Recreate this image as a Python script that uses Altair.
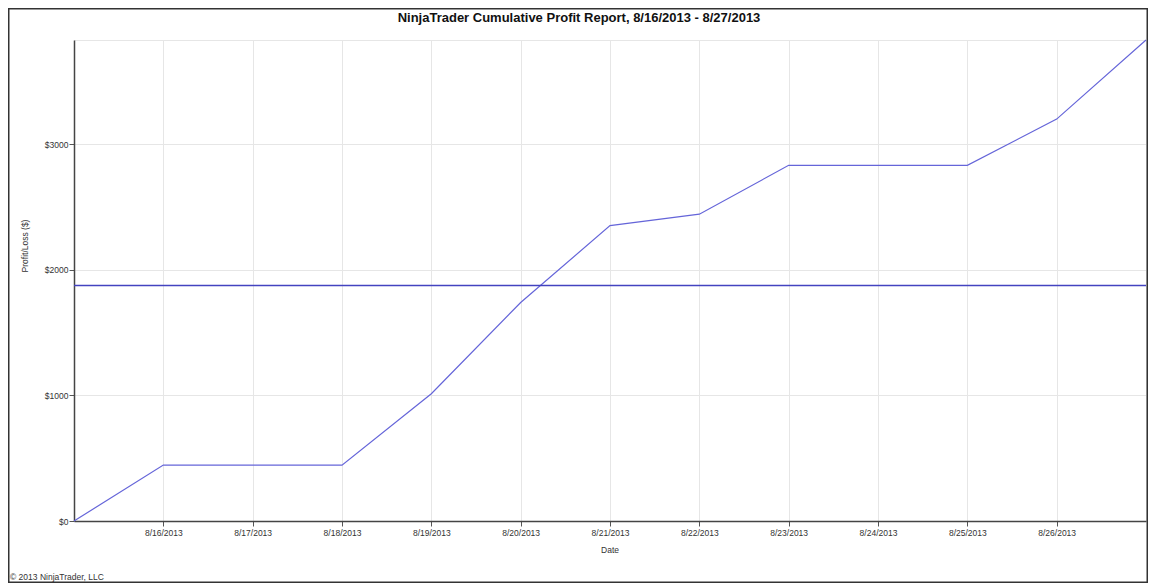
import altair as alt
import pandas as pd

# ---- data ----
dates = ["2013-08-15", "2013-08-16", "2013-08-17", "2013-08-18", "2013-08-19",
         "2013-08-20", "2013-08-21", "2013-08-22", "2013-08-23", "2013-08-24",
         "2013-08-25", "2013-08-26", "2013-08-27"]
profit = [0, 445, 445, 445, 1013, 1740, 2352, 2443, 2832, 2832, 2832, 3200, 3830]
tick_days = [16, 17, 18, 19, 20, 21, 22, 23, 24, 25, 26]
y_ticks = [0, 1000, 2000, 3000]
avg_value = [1875]
y_max = 3830

title_text = "NinjaTrader Cumulative Profit Report, 8/16/2013 - 8/27/2013"
x_title = "Date"
y_title = "Profit/Loss ($)"
copyright_text = "\u00a9 2013 NinjaTrader, LLC"

W, H = 1072, 481
FONT = "Liberation Sans"

df = pd.DataFrame({"date": dates, "profit": profit})
one = pd.DataFrame({"k": [0]})

x_enc = alt.X(
    "date:T",
    title=None,
    scale=alt.Scale(
        type="utc",
        domain=[alt.DateTime(year=2013, month=8, date=15, utc=True),
                alt.DateTime(year=2013, month=8, date=27, utc=True)],
    ),
    axis=alt.Axis(
        values=[alt.DateTime(year=2013, month=8, date=d, utc=True) for d in tick_days],
        labelExpr="utcFormat(datum.value, '%-m/%-d/%Y')",
        labelFont=FONT, labelFontSize=8.5, labelColor="#333333",
        labelPadding=2, tickSize=5, tickColor="#555555",
        domainColor="#444444", domainWidth=1.5,
        grid=True, gridColor="#e6e6e6", gridWidth=1,
        labelFlush=False, labelOverlap=False,
    ),
)

y_enc = alt.Y(
    "profit:Q",
    title=None,
    scale=alt.Scale(domain=[0, y_max], nice=False, zero=True),
    axis=alt.Axis(
        values=y_ticks,
        labelExpr="'$' + datum.value",
        labelFont=FONT, labelFontSize=8.5, labelColor="#333333",
        labelPadding=1, tickSize=5, tickColor="#555555",
        domainColor="#444444", domainWidth=1.5,
        grid=True, gridColor="#e6e6e6", gridWidth=1,
        labelFlush=False,
    ),
)

line = alt.Chart(df).mark_line(color="#6565d9", strokeWidth=1.2).encode(x=x_enc, y=y_enc)

avg_rule = alt.Chart(pd.DataFrame({"profit": avg_value})).mark_rule(
    color="#4343c0", strokeWidth=1.5
).encode(y=alt.Y("profit:Q"))

border = alt.Chart(one).mark_rect(
    fill=None, fillOpacity=0, stroke="#333333", strokeWidth=1.5
).encode(
    x=alt.value(-65.25), x2=alt.value(1073.25),
    y=alt.value(-31.25), y2=alt.value(542.25),
)

title = alt.Chart(one).mark_text(
    text=title_text, font=FONT, fontSize=13, fontWeight="bold",
    color="#111111", align="center", baseline="middle",
).encode(x=alt.value(505), y=alt.value(-22))

xt = alt.Chart(one).mark_text(
    text=x_title, font=FONT, fontSize=8.5, color="#333333",
    align="center", baseline="middle",
).encode(x=alt.value(536), y=alt.value(510))

yt = alt.Chart(one).mark_text(
    text=y_title, font=FONT, fontSize=8.5, color="#333333",
    align="center", baseline="middle", angle=270,
).encode(x=alt.value(-49), y=alt.value(206))

cp = alt.Chart(one).mark_text(
    text=copyright_text, font=FONT, fontSize=8.5, color="#333333",
    align="left", baseline="middle",
).encode(x=alt.value(-64), y=alt.value(537))

chart = alt.layer(line, avg_rule, border, title, xt, yt, cp).properties(
    width=W, height=H,
    padding={"left": 66, "top": 32, "right": 2, "bottom": 62},
    autosize=alt.AutoSizeParams(type="none"),
    background="white",
).configure_view(stroke="#e6e6e6", strokeWidth=1)

chart.save("out.html", embed_options={"renderer": "svg", "actions": False})
